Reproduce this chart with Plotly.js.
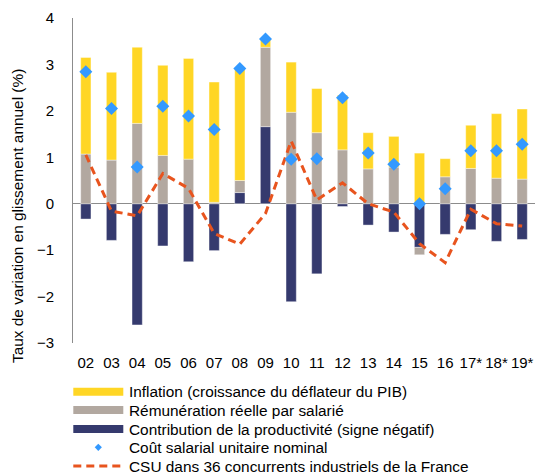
<!DOCTYPE html>
<html>
<head>
<meta charset="utf-8">
<script src="https://cdn.plot.ly/plotly-3.0.1.min.js"></script>
<style>html,body{margin:0;padding:0;background:#fff;}#chart{width:536px;height:475px;}</style>
</head>
<body>
<div id="chart"></div>
<script>
const categories = ['02','03','04','05','06','07','08','09','10','11','12','13','14','15','16','17*','18*','19*'];
const productivite = [-0.33,-0.79,-2.61,-0.91,-1.25,-1.01,0.24,1.66,-2.11,-1.51,-0.06,-0.46,-0.61,-0.94,-0.66,-0.56,-0.81,-0.77];
const remuneration = [1.07,0.94,1.73,1.04,0.96,0.03,0.26,1.71,1.97,1.53,1.16,0.75,0.79,-0.16,0.58,0.76,0.55,0.53];
const inflation = [2.08,1.89,1.64,1.94,2.17,2.59,2.41,0.17,1.08,0.95,1.18,0.78,0.66,1.09,0.39,0.93,1.39,1.51];
const csuFrance = [2.84,2.05,0.79,2.10,1.89,1.60,2.91,3.55,0.96,0.97,2.28,1.09,0.85,0.00,0.32,1.14,1.14,1.28];
const csuConcurrents = [1.05,-0.16,-0.26,0.65,0.33,-0.64,-0.87,-0.21,1.35,0.08,0.45,0.00,-0.18,-0.86,-1.27,-0.12,-0.43,-0.48];
const legendLabels = ['Inflation (croissance du déflateur du PIB)','Rémunération réelle par salarié','Contribution de la productivité (signe négatif)','Coût salarial unitaire nominal','CSU dans 36 concurrents industriels de la France'];

const C_YEL = '#FFD625', C_GRY = '#B2A8A0', C_NAV = '#353A6E', C_BLU = '#3399FF', C_ORA = '#E8541E';
const FONT = '"Liberation Sans", Arial, sans-serif';

const W = 536, H = 475;
const M = {l: 73, r: 1, t: 18, b: 132};
const PW = W - M.l - M.r, PH = H - M.t - M.b;
const px = x => (x - M.l) / PW;
const py = y => (H - M.b - y) / PH;

const edge = c => ({color: 'rgba(255,255,255,0.5)', width: 0.8});
const traces = [
  {type: 'bar', x: categories, y: productivite, name: legendLabels[2], marker: {color: C_NAV, line: edge()}},
  {type: 'bar', x: categories, y: remuneration, name: legendLabels[1], marker: {color: C_GRY, line: edge()}},
  {type: 'bar', x: categories, y: inflation, name: legendLabels[0], marker: {color: C_YEL, line: edge()}},
  {type: 'scatter', mode: 'lines', x: categories, y: csuConcurrents, name: legendLabels[4], line: {color: C_ORA, width: 3, dash: '8px,5px'}},
  {type: 'scatter', mode: 'markers', x: categories, y: csuFrance, name: legendLabels[3], marker: {symbol: 'diamond', size: 10, color: C_BLU}}
];

const shapes = [];
const annotations = [];
const rowsY = [391.7, 410, 429, 447.3, 466];
const symX0 = 73.3, symX1 = 123.3, textX = 127;
const barCols = [C_YEL, C_GRY, C_NAV];
for (let i = 0; i < 3; i++) {
  shapes.push({type: 'rect', xref: 'paper', yref: 'paper', x0: px(symX0), x1: px(symX1), y0: py(rowsY[i] + 4), y1: py(rowsY[i] - 4), fillcolor: barCols[i], line: {width: 0}});
}
{
  const cx = 98.3, cy = rowsY[3], r = 3.6;
  shapes.push({type: 'path', xref: 'paper', yref: 'paper',
    path: `M${px(cx)},${py(cy - r)} L${px(cx + r)},${py(cy)} L${px(cx)},${py(cy + r)} L${px(cx - r)},${py(cy)} Z`,
    fillcolor: C_BLU, line: {width: 0}});
}
shapes.push({type: 'line', xref: 'paper', yref: 'paper', x0: px(symX0), x1: px(symX1), y0: py(rowsY[4]), y1: py(rowsY[4]), line: {color: C_ORA, width: 3, dash: '8px,5px'}});
for (let i = 0; i < 5; i++) {
  annotations.push({xref: 'paper', yref: 'paper', x: px(textX), y: py(rowsY[i]), xanchor: 'left', yanchor: 'middle', showarrow: false, text: legendLabels[i], font: {family: FONT, size: 15.4, color: '#000'}});
}
annotations.push({xref: 'paper', yref: 'paper', x: px(17), y: py(216), xanchor: 'center', yanchor: 'middle', textangle: -90, showarrow: false, text: 'Taux de variation en glissement annuel (%)', font: {family: FONT, size: 15.4, color: '#000'}});

const layout = {
  width: W, height: H,
  margin: M,
  paper_bgcolor: '#fff', plot_bgcolor: '#fff',
  barmode: 'relative', bargap: 0.6,
  showlegend: false,
  font: {family: FONT, size: 15, color: '#000'},
  xaxis: {type: 'category', range: [-0.5, 17.5], showgrid: false, showline: false, zeroline: false, ticks: '', ticklabelstandoff: 9, tickfont: {family: FONT, size: 15, color: '#000'}, fixedrange: true},
  yaxis: {range: [-3, 4], dtick: 1, tick0: 0, showgrid: false, showline: true, linecolor: '#8c8c8c', linewidth: 1, zeroline: true, zerolinecolor: '#8c8c8c', zerolinewidth: 1.2, ticks: '', ticklabelstandoff: 15, tickfont: {family: FONT, size: 15, color: '#000'}, fixedrange: true},
  shapes: shapes,
  annotations: annotations
};
Plotly.newPlot('chart', traces, layout, {displayModeBar: false, staticPlot: true});
</script>
</body>
</html>
